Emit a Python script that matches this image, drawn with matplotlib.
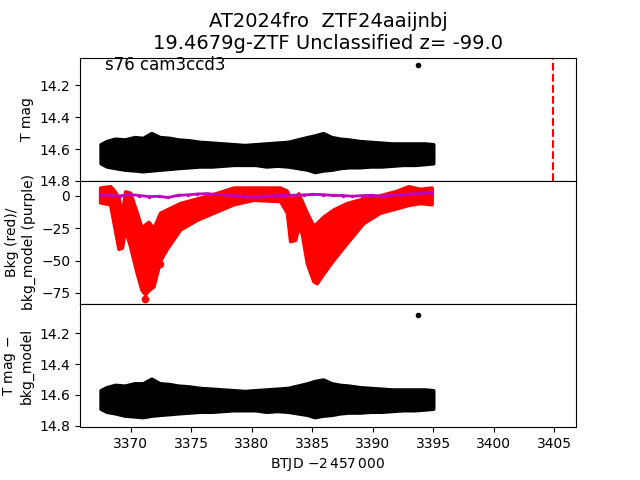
import matplotlib
matplotlib.use("Agg")
import matplotlib.pyplot as plt
from matplotlib.ticker import MultipleLocator
import numpy as np

# light curve envelope (band of dense points)
t_band = [3367.5, 3368.0, 3368.7, 3369.5, 3370.3, 3371.0, 3371.7, 3372.4, 3373.2,
          3373.9, 3374.8, 3375.7, 3376.7, 3377.6, 3378.5, 3379.4, 3380.3, 3381.2,
          3382.1, 3383.0, 3383.8, 3384.6, 3385.2, 3385.9, 3386.6, 3387.3, 3388.0,
          3388.9, 3389.8, 3390.7, 3391.6, 3392.5, 3393.5, 3394.3, 3395.0]
mag_hi = [14.57, 14.55, 14.535, 14.54, 14.525, 14.53, 14.50, 14.525, 14.53, 14.54,
          14.545, 14.555, 14.56, 14.565, 14.57, 14.575, 14.57, 14.565, 14.56, 14.555,
          14.54, 14.525, 14.515, 14.50, 14.525, 14.535, 14.54, 14.55, 14.555, 14.56,
          14.565, 14.565, 14.565, 14.565, 14.57]
mag_lo = [14.69, 14.71, 14.72, 14.73, 14.735, 14.74, 14.735, 14.73, 14.725, 14.72,
          14.715, 14.71, 14.71, 14.705, 14.70, 14.70, 14.70, 14.71, 14.705, 14.71,
          14.72, 14.73, 14.745, 14.735, 14.73, 14.72, 14.715, 14.715, 14.71, 14.71,
          14.705, 14.70, 14.70, 14.695, 14.69]
# background-subtracted magnitude envelope
cor_hi = [14.57, 14.55, 14.535, 14.54, 14.525, 14.525, 14.495, 14.525, 14.53, 14.54,
          14.545, 14.555, 14.56, 14.565, 14.57, 14.575, 14.57, 14.565, 14.56, 14.555,
          14.54, 14.525, 14.51, 14.50, 14.525, 14.535, 14.54, 14.55, 14.555, 14.56,
          14.565, 14.565, 14.565, 14.565, 14.57]
cor_lo = [14.69, 14.71, 14.72, 14.735, 14.74, 14.745, 14.735, 14.73, 14.725, 14.72,
          14.715, 14.71, 14.71, 14.705, 14.70, 14.70, 14.70, 14.71, 14.705, 14.71,
          14.72, 14.73, 14.745, 14.735, 14.73, 14.72, 14.715, 14.715, 14.71, 14.71,
          14.705, 14.70, 14.70, 14.695, 14.69]
t_out = [3393.77]
mag_out = [14.07]
cor_out = [14.08]

# background envelope (red)
t_bkg = [3367.46, 3368.29, 3368.56, 3368.98, 3369.26, 3369.53, 3369.94, 3370.5,
         3370.9, 3371.18, 3371.46, 3371.87, 3372.42, 3372.97, 3374.07, 3375.45,
         3376.83, 3378.48, 3380.13, 3382.34, 3382.9, 3383.17, 3383.58, 3383.85,
         3384.13, 3384.55, 3385.09, 3385.37, 3385.92, 3386.74, 3387.85, 3389.22,
         3390.6, 3391.98, 3392.94, 3393.9, 3394.87]
bkg_hi = [6.5, 7.5, 5.0, -1.0, -15.0, 3.5, 2.5, -13.0, -25.0, -22.0, -20.0, -25.0,
          -13.0, -10.5, -5.5, -2.0, 1.5, 6.5, 6.5, 6.5, 4.0, -2.0, -1.0, 2.0,
          -4.0, -13.0, -23.0, -21.0, -16.0, -10.5, -5.5, -2.0, 0.5, 4.0, 7.5, 5.5, 6.5]
bkg_lo = [-5.0, -6.5, -20.0, -41.0, -40.0, -26.0, -39.0, -60.0, -73.0, -76.0,
          -73.0, -70.0, -50.0, -41.0, -26.0, -18.5, -13.0, -6.5, -3.0, -4.0,
          -13.0, -35.0, -34.0, -24.0, -29.0, -52.0, -66.0, -67.5, -60.0, -49.5,
          -36.5, -21.0, -13.0, -9.5, -7.0, -5.5, -6.5]
t_bkg_out = [3371.2, 3372.4]
bkg_out = [-79.5, -53.0]

# background model (purple)
t_mod = [3367.5, 3368.3, 3369.1, 3369.9, 3370.7, 3371.5, 3372.3, 3373.1, 3373.9,
         3374.7, 3375.5, 3376.3, 3377.1, 3377.9, 3378.7, 3379.5, 3380.3, 3381.1,
         3381.9, 3382.7, 3383.5, 3384.3, 3385.1, 3385.9, 3386.7, 3387.5, 3388.3,
         3389.1, 3389.9, 3390.7, 3391.5, 3392.3, 3393.1, 3393.9, 3394.9]
bkg_mod = [0.8, 0.5, 0.0, 1.2, 0.3, -0.5, -0.3, -1.2, 0.5, 0.8, 1.5, 1.8, 1.2,
           0.6, 0.2, -0.6, -0.8, -0.3, 0.2, 0.6, 0.5, 0.8, 1.2, 1.0, 0.4, 0.3,
           -0.2, 0.2, 0.5, -0.2, 0.4, 1.0, 1.5, 2.0, 2.4]

t_flag = 3404.9

fig, axes = plt.subplots(3, 1, sharex=True, figsize=(6.4, 4.8))
fig.subplots_adjust(hspace=0)
ax1, ax2, ax3 = axes

ax1.fill_between(t_band, mag_hi, mag_lo, color='k', lw=2.5, joinstyle='round')
ax1.plot(t_out, mag_out, 'k.', ms=6)
ax1.axvline(t_flag, color='r', ls='--')
ax1.set_ylim(14.8, 14.025)
ax1.yaxis.set_major_locator(MultipleLocator(0.2))
ax1.set_ylabel('T mag')
ax1.text(0.05, 0.9, 's76 cam3ccd3', transform=ax1.transAxes, fontsize=12)
ax1.set_title('AT2024fro  ZTF24aaijnbj\n19.4679g-ZTF Unclassified z= -99.0', fontsize=14)

ax2.fill_between(t_bkg, bkg_hi, bkg_lo, color='r', lw=2.5, joinstyle='round')
ax2.plot(t_bkg_out, bkg_out, 'r.', ms=9)
ax2.plot(t_mod, bkg_mod, 'm.-', ms=3, lw=2)
ax2.set_ylim(-83.6, 11.7)
ax2.set_ylabel('Bkg (red)/\nbkg_model (purple)')

ax3.fill_between(t_band, cor_hi, cor_lo, color='k', lw=2.5, joinstyle='round')
ax3.plot(t_out, cor_out, 'k.', ms=6)
ax3.set_ylim(14.81, 14.01)
ax3.yaxis.set_major_locator(MultipleLocator(0.2))
ax3.set_ylabel('T mag $-$\nbkg_model')
ax3.set_xlabel(r'BTJD $-2\,457\,000$')
ax3.set_xlim(3365.8, 3406.8)

plt.savefig('out.png', dpi=100)
